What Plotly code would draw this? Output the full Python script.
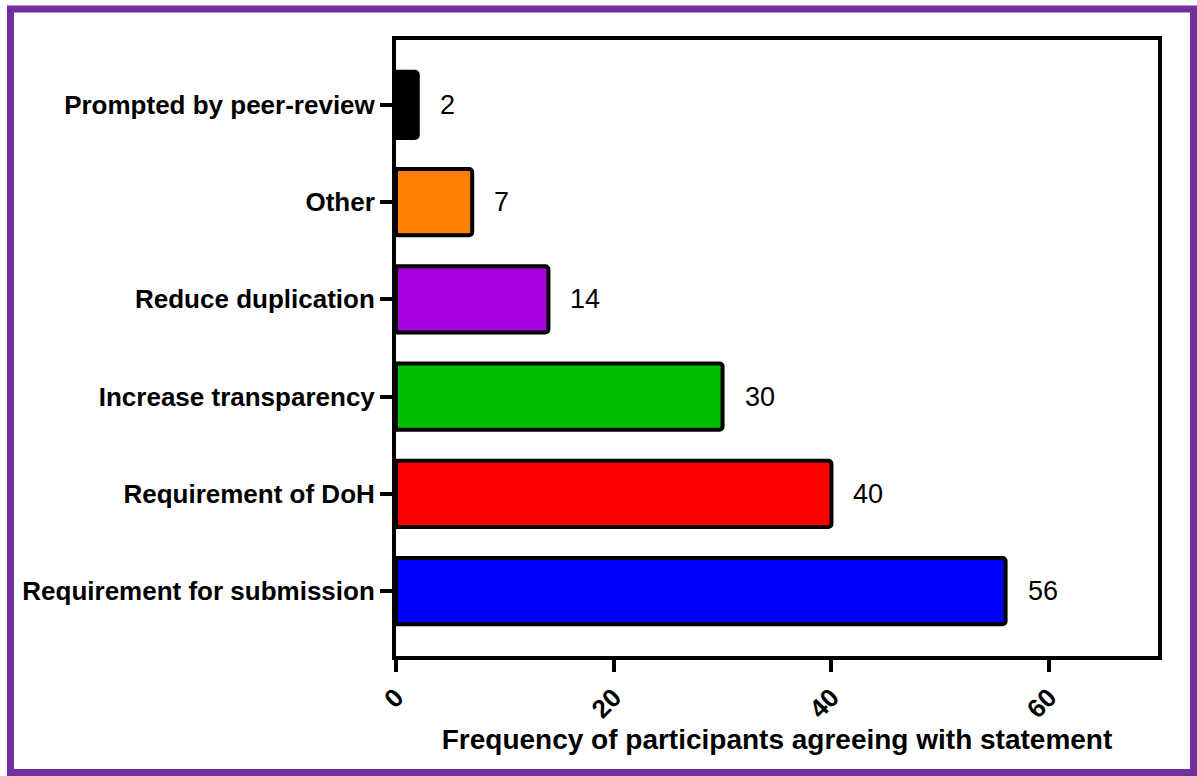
import plotly.graph_objects as go

categories = ["Requirement for submission", "Requirement of DoH", "Increase transparency",
              "Reduce duplication", "Other", "Prompted by peer-review"]
values = [56, 40, 30, 14, 7, 2]
colors = ["#0000FF", "#FF0000", "#00BF00", "#A800DC", "#FF8000", "#000000"]
x_ticks = [0, 20, 40, 60]
x_title = "Frequency of participants agreeing with statement"

FONT = "Liberation Sans, Arial"

fig = go.Figure()
fig.add_trace(go.Bar(
    x=values, y=categories, orientation="h",
    marker=dict(color=colors, line=dict(color="black", width=4)),
    width=0.68, showlegend=False, hoverinfo="skip",
))

for c, v in zip(categories, values):
    fig.add_annotation(x=v, y=c, text=str(v), showarrow=False, xanchor="left",
                       xshift=20, font=dict(family=FONT, size=27, color="black"))

fig.update_layout(
    width=1197, height=776,
    margin=dict(l=396, r=39, t=40, b=120),
    paper_bgcolor="white", plot_bgcolor="white",
    barcornerradius=3,
    font=dict(family=FONT, color="black"),
    xaxis=dict(
        range=[0, 70], tickvals=x_ticks, ticktext=[str(t) for t in x_ticks],
        tickangle=-45, ticks="outside", ticklen=12, tickwidth=4, tickcolor="black",
        showline=True, linewidth=4, linecolor="black", mirror=True,
        showgrid=False, zeroline=False,
        tickfont=dict(family=FONT, size=26, color="black", weight="bold"),
        title=dict(text=x_title, standoff=6,
                   font=dict(family=FONT, size=28, color="black", weight="bold")),
    ),
    yaxis=dict(
        categoryorder="array", categoryarray=categories,
        range=[-0.667, 5.667],
        ticks="outside", ticklen=12, tickwidth=4, tickcolor="black",
        showline=True, linewidth=4, linecolor="black", mirror=True,
        showgrid=False, zeroline=False, ticklabelstandoff=0,
        tickfont=dict(family=FONT, size=26, color="black", weight="bold"),
    ),
    shapes=[dict(type="rect", xref="paper", yref="paper",
                 x0=(10.5 - 396) / 762, x1=(1193.5 - 396) / 762,
                 y0=-(772.5 - 656) / 616, y1=1 + (40 - 9) / 616,
                 line=dict(color="#7030A0", width=7), fillcolor="rgba(0,0,0,0)", layer="above")],
)

fig.write_html("out.html", config={"displayModeBar": False},
               post_script="document.body.style.margin='0';")
